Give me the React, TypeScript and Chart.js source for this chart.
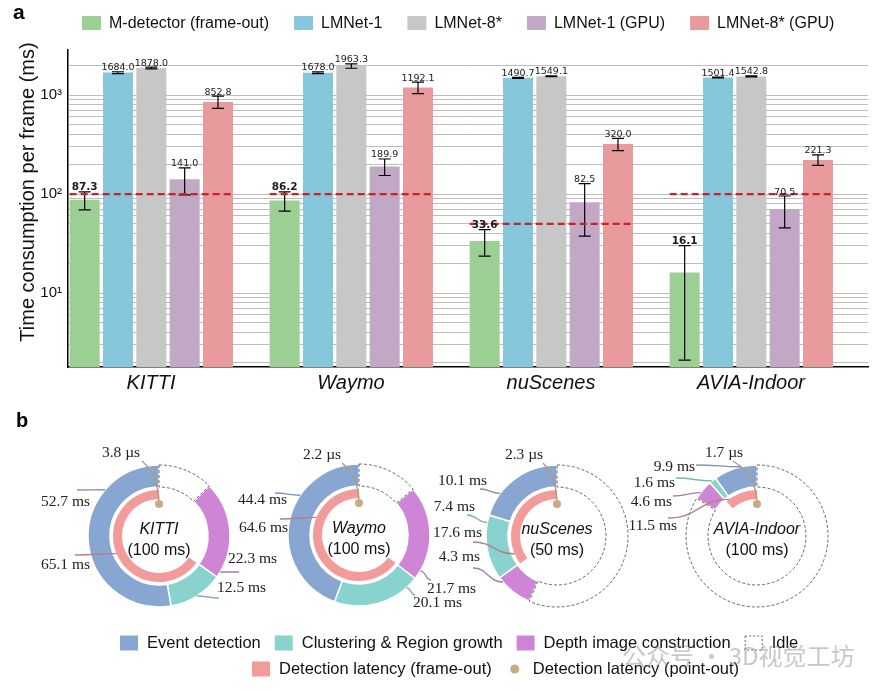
import React, { useEffect, useRef } from 'react';
import { Chart, registerables } from 'chart.js';

Chart.register(...registerables);

// ================= Panel a data =================
const SCENES = ['KITTI', 'Waymo', 'nuScenes', 'AVIA-Indoor'];
const SERIES_NAMES = ['M-detector (frame-out)', 'LMNet-1', 'LMNet-8*', 'LMNet-1 (GPU)', 'LMNet-8* (GPU)'];
const M_DETECTOR = [87.3, 86.2, 33.6, 16.1];
const LMNET_1 = [1684.0, 1678.0, 1490.7, 1501.4];
const LMNET_8 = [1878.0, 1963.3, 1549.1, 1542.8];
const LMNET_1_GPU = [141.0, 189.9, 82.5, 70.5];
const LMNET_8_GPU = [852.8, 1192.1, 320.0, 221.3];
const M_DETECTOR_ERR = [18, 19, 10, 14];
const LMNET_1_ERR = [35, 35, 15, 15];
const LMNET_8_ERR = [40, 100, 15, 15];
const LMNET_1_GPU_ERR = [43, 36, 45, 25];
const LMNET_8_GPU_ERR = [120, 160, 45, 27];
const BUDGET_MS = [100, 100, 50, 100];
const Y_TICKS = [2, 3, 4, 5, 6, 7, 8, 9, 10, 20, 30, 40, 50, 60, 70, 80, 90, 100, 200, 300, 400, 500, 600, 700, 800, 900, 1000, 2000];
const Y_TICK_LABELS: Record<number, string> = { 10: '10\u00b9', 100: '10\u00b2', 1000: '10\u00b3' };
const Y_MIN = 1.79;
const Y_MAX = 2850;
const Y_TITLE = 'Time consumption per frame (ms)';

const SERIES_VALUES = [M_DETECTOR, LMNET_1, LMNET_8, LMNET_1_GPU, LMNET_8_GPU];
const SERIES_ERRS = [M_DETECTOR_ERR, LMNET_1_ERR, LMNET_8_ERR, LMNET_1_GPU_ERR, LMNET_8_GPU_ERR];
const BAR_COLORS = ['#9ccf93', '#87c7dc', '#c7c7c7', '#c1a9c5', '#e99a9c'];

// ================= Panel b data =================
const SEQ_NAMES = ['KITTI', 'Waymo', 'nuScenes', 'AVIA-Indoor'];
const FRAME_PERIOD_MS = [100, 100, 50, 100];
const EVENT_DET_MS = [52.7, 44.4, 10.1, 9.9];
const CLUSTER_MS = [12.5, 20.1, 7.4, 1.6];
const DEPTH_MS = [22.3, 21.7, 4.3, 4.6];
const FRAME_OUT_MS = [65.1, 64.6, 17.6, 11.5];
const POINT_OUT_US = [3.8, 2.2, 2.3, 1.7];
const LEGEND_B_ROW1 = ['Event detection', 'Clustering & Region growth', 'Depth image construction', 'Idle'];
const LEGEND_B_ROW2 = ['Detection latency (frame-out)', 'Detection latency (point-out)'];

const C_EVENT = '#87a6d2';
const C_CLUSTER = '#88d3cd';
const C_DEPTH = '#cf85d6';
const C_FRAME = '#f39a9b';
const C_POINT = '#c9aa85';
const LINE_COLORS: Record<string, string> = {
  event: '#8093b0', cluster: '#7cb6af', depth: '#a27ba9', frame: '#b47f82', point: '#b59b7b',
};

// layout (centres of the rings on the page)
const DONUT_CENTERS = [[159, 536], [359, 535], [557, 536], [757, 536]];

type Ann = { key: 'event' | 'cluster' | 'depth' | 'frame' | 'point'; tx: number; ty: number; align: CanvasTextAlign; sx: number; sy: number; frac: number };
const DONUT_ANNOTATIONS: Ann[][] = [
  [
    { key: 'point', tx: -38, ty: -83, align: 'center', sx: -17, sy: -75, frac: 0 },
    { key: 'event', tx: -69, ty: -34, align: 'right', sx: -82, sy: -46, frac: 0.74 },
    { key: 'frame', tx: -69, ty: 29, align: 'right', sx: -84, sy: 19, frac: 0.52 },
    { key: 'depth', tx: 69, ty: 23, align: 'left', sx: 80, sy: 36, frac: 0.94 },
    { key: 'cluster', tx: 58, ty: 52, align: 'left', sx: 60, sy: 62, frac: 0.5 },
  ],
  [
    { key: 'point', tx: -37, ty: -80, align: 'center', sx: -17, sy: -72, frac: 0 },
    { key: 'event', tx: -72, ty: -35, align: 'right', sx: -84, sy: -42, frac: 0.65 },
    { key: 'frame', tx: -71, ty: -7, align: 'right', sx: -79, sy: -16, frac: 0.71 },
    { key: 'depth', tx: 68, ty: 54, align: 'left', sx: 72, sy: 45, frac: 0.905 },
    { key: 'cluster', tx: 54, ty: 68, align: 'left', sx: 56, sy: 60, frac: 0.14 },
  ],
  [
    { key: 'point', tx: -33, ty: -81, align: 'center', sx: -14, sy: -73, frac: 0 },
    { key: 'event', tx: -70, ty: -55, align: 'right', sx: -77, sy: -47, frac: 0.27 },
    { key: 'cluster', tx: -82, ty: -29, align: 'right', sx: -90, sy: -21, frac: 0.88 },
    { key: 'frame', tx: -75, ty: -3, align: 'right', sx: -84, sy: 6, frac: 0.11 },
    { key: 'depth', tx: -77, ty: 21, align: 'right', sx: -84, sy: 32, frac: 0.86 },
  ],
  [
    { key: 'point', tx: -33, ty: -83, align: 'center', sx: -24, sy: -75, frac: 0 },
    { key: 'event', tx: -62, ty: -69, align: 'right', sx: -61, sy: -71, frac: 0.65 },
    { key: 'cluster', tx: -82, ty: -53, align: 'right', sx: -81, sy: -58, frac: 0.4 },
    { key: 'depth', tx: -85, ty: -34, align: 'right', sx: -84, sy: -40, frac: 0.34 },
    { key: 'frame', tx: -80, ty: -10, align: 'right', sx: -89, sy: -18, frac: 0.1 },
  ],
];

const SANS = '"Liberation Sans", Arial, sans-serif';
const SERIF = '"Liberation Serif", "Times New Roman", serif';

// ================= Panel a =================
const barDecor = {
  id: 'barDecor',
  afterDatasetsDraw(chart: any) {
    const ctx: CanvasRenderingContext2D = chart.ctx;
    const y = chart.scales.y;
    // error bars
    ctx.save();
    ctx.strokeStyle = '#000';
    ctx.lineWidth = 1.2;
    SERIES_VALUES.forEach((vals, d) => {
      const meta = chart.getDatasetMeta(d);
      meta.data.forEach((bar: any, i: number) => {
        const e = SERIES_ERRS[d][i];
        const yt = y.getPixelForValue(vals[i] + e);
        const yb = y.getPixelForValue(vals[i] - e);
        ctx.beginPath();
        ctx.moveTo(bar.x, yt); ctx.lineTo(bar.x, yb);
        ctx.moveTo(bar.x - 6, yt); ctx.lineTo(bar.x + 6, yt);
        ctx.moveTo(bar.x - 6, yb); ctx.lineTo(bar.x + 6, yb);
        ctx.stroke();
      });
    });
    ctx.restore();
    // real-time budget lines
    ctx.save();
    ctx.strokeStyle = '#c8232c';
    ctx.lineWidth = 2.2;
    ctx.setLineDash([7, 4]);
    BUDGET_MS.forEach((b, i) => {
      const first: any = chart.getDatasetMeta(0).data[i];
      const last: any = chart.getDatasetMeta(4).data[i];
      const yy = y.getPixelForValue(b);
      ctx.beginPath();
      ctx.moveTo(first.x - first.width / 2, yy);
      ctx.lineTo(last.x + last.width / 2, yy);
      ctx.stroke();
    });
    ctx.restore();
    // value labels
    ctx.save();
    ctx.fillStyle = '#1a1a1a';
    ctx.textAlign = 'center';
    ctx.textBaseline = 'alphabetic';
    SERIES_VALUES.forEach((vals, d) => {
      const meta = chart.getDatasetMeta(d);
      ctx.font = d === 0 ? 'bold 10.5px "DejaVu Sans"' : '9.5px "DejaVu Sans"';
      meta.data.forEach((bar: any, i: number) => {
        const yt = y.getPixelForValue(vals[i] + SERIES_ERRS[d][i]);
        ctx.fillText(vals[i].toFixed(1), bar.x, yt - 1.5);
      });
    });
    ctx.restore();
  },
  afterDraw(chart: any) {
    const ctx: CanvasRenderingContext2D = chart.ctx;
    ctx.save();
    // panel letter
    ctx.fillStyle = '#000';
    ctx.font = `bold 21px ${SANS}`;
    ctx.textBaseline = 'alphabetic';
    ctx.textAlign = 'left';
    ctx.fillText('a', 13, 19);
    // legend
    ctx.font = `16px ${SANS}`;
    ctx.textBaseline = 'middle';
    let x = 82;
    const ly = 23;
    chart.data.datasets.slice(0, 5).forEach((ds: any) => {
      ctx.fillStyle = ds.backgroundColor;
      ctx.fillRect(x, ly - 7, 19, 14);
      ctx.fillStyle = '#111';
      ctx.fillText(ds.label, x + 27, ly + 0.5);
      x += 27 + ctx.measureText(ds.label).width + 25;
    });
    // y title
    ctx.translate(28, 192);
    ctx.rotate(-Math.PI / 2);
    ctx.textAlign = 'center';
    ctx.font = `20px ${SANS}`;
    ctx.fillStyle = '#111';
    ctx.fillText(Y_TITLE, 0, 0);
    ctx.restore();
  },
};

function BarPanel() {
  const ref = useRef<HTMLCanvasElement>(null);
  useEffect(() => {
    const datasets: any[] = SERIES_VALUES.map((vals, d) => ({
      label: SERIES_NAMES[d],
      data: vals,
      backgroundColor: BAR_COLORS[d],
      borderWidth: 0,
      barPercentage: 0.9,
      categoryPercentage: 1.0,
    }));
    datasets.push({ label: '', data: [null, null, null, null], barPercentage: 0.9, categoryPercentage: 1.0 });
    const chart = new Chart(ref.current as HTMLCanvasElement, {
      type: 'bar',
      data: { labels: SCENES, datasets },
      options: {
        responsive: false,
        animation: false,
        devicePixelRatio: 1,
        events: [],
        layout: { padding: { left: 0, right: 11, top: 50, bottom: 0 } },
        plugins: { legend: { display: false }, tooltip: { enabled: false } },
        scales: {
          x: {
            grid: { display: false, drawTicks: false },
            border: { display: true, color: '#000', width: 1.5 },
            ticks: { font: { family: SANS, size: 20, style: 'italic' }, color: '#111', padding: 4, labelOffset: -17 },
            afterFit: (s: any) => { s.height = 33; },
          },
          y: {
            type: 'logarithmic',
            min: Y_MIN,
            max: Y_MAX,
            afterBuildTicks: (s: any) => { s.ticks = Y_TICKS.map((v) => ({ value: v })); },
            afterFit: (s: any) => { s.width = 68; },
            grid: { color: '#bdbdbd', lineWidth: 1, drawTicks: false },
            border: { display: true, color: '#000', width: 1.5 },
            ticks: {
              autoSkip: false,
              padding: 6,
              font: { family: SANS, size: 15 },
              color: '#111',
              callback: (v: any) => Y_TICK_LABELS[Number(v)] ?? '',
            },
          },
        },
      } as any,
      plugins: [barDecor],
    });
    return () => chart.destroy();
  }, []);
  return <canvas ref={ref} width={879} height={400} style={{ position: 'absolute', left: 0, top: 0, width: 879, height: 400 }} />;
}

// ================= Panel b =================
function makeDonutDecor(i: number) {
  return {
    id: 'donutDecor',
    afterDatasetsDraw(chart: any) {
      const ctx: CanvasRenderingContext2D = chart.ctx;
      const outer = chart.getDatasetMeta(0).data as any[];
      const red = chart.getDatasetMeta(2).data as any[];
      const idle = outer[0];
      const cx = idle.x;
      const cy = idle.y;
      ctx.save();
      // idle dashed outline
      ctx.setLineDash([3, 2]);
      ctx.strokeStyle = '#555';
      ctx.lineWidth = 0.9;
      ctx.beginPath();
      ctx.arc(cx, cy, idle.outerRadius, idle.startAngle, idle.endAngle);
      ctx.arc(cx, cy, idle.innerRadius, idle.endAngle, idle.startAngle, true);
      ctx.closePath();
      ctx.stroke();
      ctx.setLineDash([]);
      // point-out latency dot
      const f = red[1];
      const dotR = f.innerRadius - 5;
      const dx = cx + Math.cos(f.endAngle) * dotR;
      const dy = cy + Math.sin(f.endAngle) * dotR;
      // leader lines + labels
      const elFor: Record<string, any> = { event: outer[3], cluster: outer[2], depth: outer[1], frame: red[1] };
      const textFor: Record<string, string> = {
        event: `${EVENT_DET_MS[i].toFixed(1)} ms`,
        cluster: `${CLUSTER_MS[i].toFixed(1)} ms`,
        depth: `${DEPTH_MS[i].toFixed(1)} ms`,
        frame: `${FRAME_OUT_MS[i].toFixed(1)} ms`,
        point: `${POINT_OUT_US[i].toFixed(1)} \u00b5s`,
      };
      DONUT_ANNOTATIONS[i].forEach((a) => {
        let ex: number;
        let ey: number;
        if (a.key === 'point') {
          ex = dx; ey = dy;
        } else {
          const el = elFor[a.key];
          const ang = el.startAngle + a.frac * (el.endAngle - el.startAngle);
          const r = el.outerRadius;
          ex = cx + Math.cos(ang) * r;
          ey = cy + Math.sin(ang) * r;
        }
        const sx = cx + a.sx;
        const sy = cy + a.sy;
        ctx.strokeStyle = LINE_COLORS[a.key];
        ctx.lineWidth = 1.4;
        ctx.beginPath();
        ctx.moveTo(sx, sy);
        if (a.key === 'point') {
          ctx.quadraticCurveTo(ex, sy + (ey - sy) * 0.35, ex, ey);
        } else {
          const mx = sx + (ex - sx) * 0.5;
          ctx.bezierCurveTo(mx, sy, mx, ey, ex, ey);
        }
        ctx.stroke();
        ctx.fillStyle = '#222';
        ctx.font = `15.5px ${SERIF}`;
        ctx.textAlign = a.align;
        ctx.textBaseline = 'middle';
        ctx.fillText(textFor[a.key], cx + a.tx, cy + a.ty);
      });
      ctx.fillStyle = C_POINT;
      ctx.beginPath();
      ctx.arc(dx, dy, 4, 0, Math.PI * 2);
      ctx.fill();
      // centre text
      ctx.fillStyle = '#111';
      ctx.textAlign = 'center';
      ctx.textBaseline = 'middle';
      ctx.font = `italic 16px ${SANS}`;
      ctx.fillText(SEQ_NAMES[i], cx, cy - 6);
      ctx.font = `16px ${SANS}`;
      ctx.fillText(`(${FRAME_PERIOD_MS[i]} ms)`, cx, cy + 15);
      ctx.restore();
    },
  };
}

function Donut({ i }: { i: number }) {
  const ref = useRef<HTMLCanvasElement>(null);
  useEffect(() => {
    const period = FRAME_PERIOD_MS[i];
    const busy = EVENT_DET_MS[i] + CLUSTER_MS[i] + DEPTH_MS[i];
    const chart = new Chart(ref.current as HTMLCanvasElement, {
      type: 'doughnut',
      data: {
        labels: ['Idle', 'Depth image construction', 'Clustering & Region growth', 'Event detection'],
        datasets: [
          {
            data: [period - busy, DEPTH_MS[i], CLUSTER_MS[i], EVENT_DET_MS[i]],
            backgroundColor: ['rgba(255,255,255,0)', C_DEPTH, C_CLUSTER, C_EVENT],
            borderColor: '#ffffff',
            borderWidth: [0, 1.5, 1.5, 1.5],
            weight: 22,
          },
          { data: [1], backgroundColor: 'rgba(0,0,0,0)', borderWidth: 0, weight: 3 },
          {
            data: [period - FRAME_OUT_MS[i], FRAME_OUT_MS[i]],
            backgroundColor: ['rgba(0,0,0,0)', C_FRAME],
            borderWidth: 0,
            weight: 9,
          },
        ],
      } as any,
      options: {
        responsive: false,
        animation: false,
        devicePixelRatio: 1,
        events: [],
        radius: 71,
        cutout: '52.1%',
        layout: { padding: 0 },
        plugins: { legend: { display: false }, tooltip: { enabled: false } },
      } as any,
      plugins: [makeDonutDecor(i)],
    });
    return () => chart.destroy();
  }, [i]);
  const [cx, cy] = DONUT_CENTERS[i];
  return (
    <canvas
      ref={ref}
      width={300}
      height={200}
      style={{ position: 'absolute', left: cx - 150, top: cy - 100, width: 300, height: 200 }}
    />
  );
}

function BottomPanel() {
  const ref = useRef<HTMLCanvasElement>(null);
  useEffect(() => {
    const ctx = (ref.current as HTMLCanvasElement).getContext('2d') as CanvasRenderingContext2D;
    const top = 395;
    ctx.clearRect(0, 0, 879, 295);
    ctx.fillStyle = '#000';
    ctx.font = `bold 20px ${SANS}`;
    ctx.textBaseline = 'alphabetic';
    ctx.fillText('b', 16, 427 - top);
    ctx.font = `16.5px ${SANS}`;
    ctx.textBaseline = 'middle';
    const row1Colors = [C_EVENT, C_CLUSTER, C_DEPTH, null];
    let x = 120;
    let y = 643 - top;
    LEGEND_B_ROW1.forEach((t, k) => {
      const c = row1Colors[k];
      if (c) {
        ctx.fillStyle = c;
        ctx.fillRect(x, y - 7.5, 18, 15);
      } else {
        ctx.save();
        ctx.setLineDash([2, 2]);
        ctx.strokeStyle = '#666';
        ctx.lineWidth = 1;
        ctx.strokeRect(x + 0.5, y - 7, 17, 14);
        ctx.restore();
      }
      ctx.fillStyle = '#111';
      ctx.fillText(t, x + 27, y + 0.5);
      x += 27 + ctx.measureText(t).width + 14;
    });
    x = 252;
    y = 669 - top;
    LEGEND_B_ROW2.forEach((t, k) => {
      if (k === 0) {
        ctx.fillStyle = C_FRAME;
        ctx.fillRect(x, y - 7.5, 18, 15);
      } else {
        ctx.fillStyle = C_POINT;
        ctx.beginPath();
        ctx.arc(x + 9, y, 4.5, 0, Math.PI * 2);
        ctx.fill();
      }
      ctx.fillStyle = '#111';
      ctx.fillText(t, x + 27, y + 0.5);
      x += 27 + ctx.measureText(t).width + 14;
    });
    // faint watermark
    ctx.fillStyle = 'rgba(130,130,130,0.45)';
    ctx.font = '24px "Noto Sans CJK SC", sans-serif';
    ctx.textAlign = 'left';
    ctx.fillText('\u516c\u4f17\u53f7 \u00b7 3D\u89c6\u89c9\u5de5\u574a', 622, 656 - top);
  }, []);
  return <canvas ref={ref} width={879} height={295} style={{ position: 'absolute', left: 0, top: 395, width: 879, height: 295 }} />;
}

export default function App() {
  return (
    <div style={{ position: 'absolute', left: 0, top: 0, width: 879, height: 690, background: '#fff', overflow: 'hidden' }}>
      <BarPanel />
      <BottomPanel />
      {DONUT_CENTERS.map((_, i) => (
        <Donut key={i} i={i} />
      ))}
    </div>
  );
}
